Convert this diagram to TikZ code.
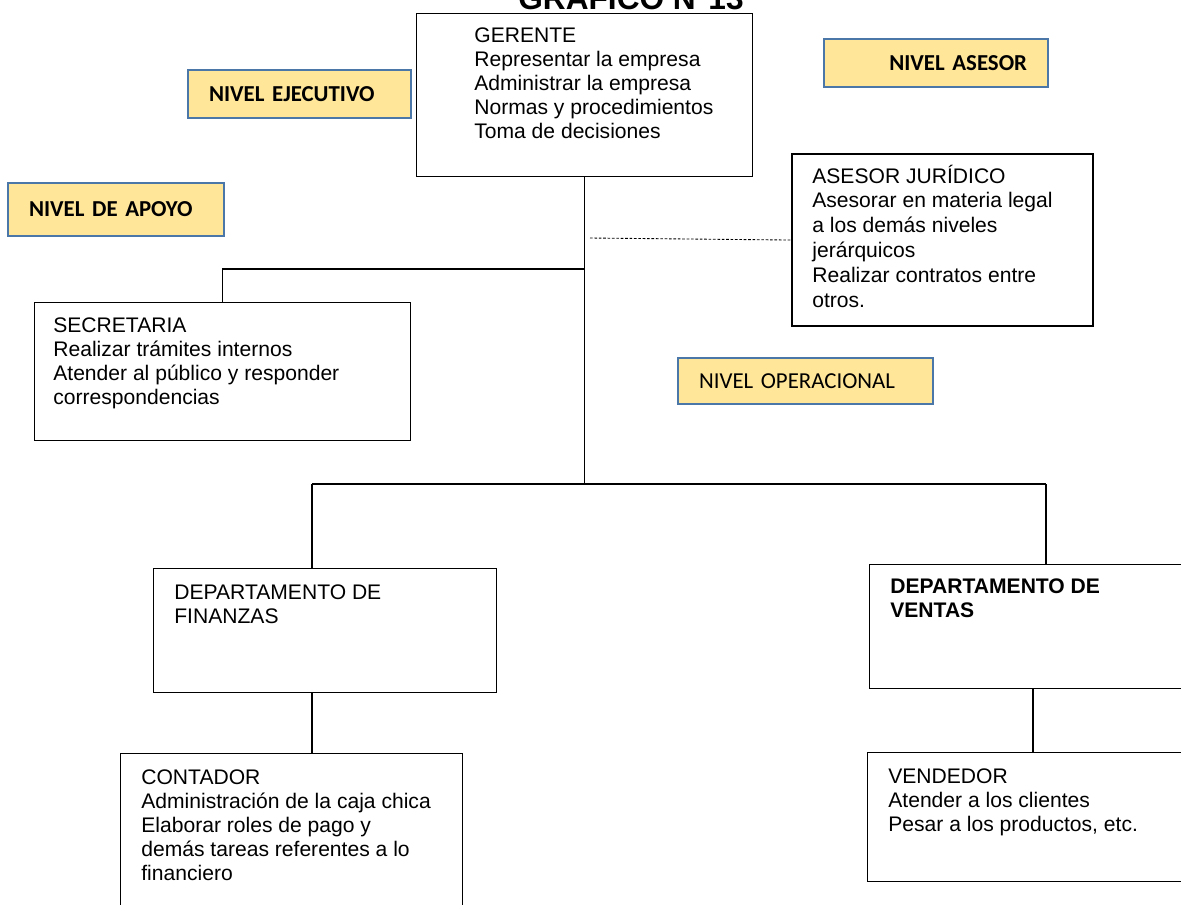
\documentclass[tikz,border=0pt]{standalone}
\usepackage{fontspec}
\setmainfont{Liberation Sans}
\newfontfamily\calibri{Carlito}
\usetikzlibrary{positioning, calc}
\definecolor{amarillo}{HTML}{FFE699}
\definecolor{azul}{HTML}{4A76A8}
\newcommand{\lineas}[1]{\begin{tabular}[t]{@{}l@{}}#1\end{tabular}}

\begin{document}
\begin{tikzpicture}[x=0.02cm, y=-0.02cm,
    caja/.style={draw, line width=0.6pt, anchor=north west, inner sep=0},
    texto/.style={anchor=base west, inner sep=0, font=\fontsize{12}{13.8}\selectfont},
    nivel/.style={fill=amarillo, draw=azul, line width=1.2pt, anchor=north west,
                  inner ysep=0, inner xsep=0.42cm, font=\calibri\bfseries\fontsize{13}{15}\selectfont},
    linea/.style={line width=0.8pt}]
  \useasboundingbox (0,0) rectangle (1181,904);

  % Titulo
  \node[anchor=base, inner sep=0, font=\bfseries\fontsize{18}{20}\selectfont] (titulo) at (631,9.5) {GRÁFICO N°13};

  % Niveles
  \node[nivel, minimum height=0.96cm, text width=3.62cm, align=left] (ejecutivo) at (187,69) {NIVEL EJECUTIVO};
  \node[nivel, minimum height=0.96cm, text width=3.64cm, align=right] (nasesor) at (823,38) {NIVEL ASESOR};
  \node[nivel, minimum height=1.06cm, text width=3.48cm, align=left] (apoyo) at (7,182) {NIVEL DE APOYO};
  \node[nivel, minimum height=0.92cm, text width=4.26cm, align=left, font=\calibri\fontsize{13}{15}\selectfont] (operacional) at (677,357) {NIVEL OPERACIONAL};

  % Cajas
  \node[caja, minimum width=6.72cm, minimum height=3.26cm] (gerente) at (416,13) {};
  \node[texto] (gerente-txt) at (474,42) {\lineas{GERENTE\\Representar la empresa\\Administrar la empresa\\Normas y procedimientos\\Toma de decisiones}};

  \node[caja, line width=1.2pt, minimum width=6.02cm, minimum height=3.44cm] (asesor) at (791,153) {};
  \node[texto, font=\fontsize{12}{14.2}\selectfont] (asesor-txt) at (812,183) {\lineas{ASESOR JURÍDICO\\Asesorar en materia legal\\a los demás niveles\\jerárquicos\\Realizar contratos entre\\otros.}};

  \node[caja, minimum width=7.52cm, minimum height=2.76cm] (secretaria) at (34,302) {};
  \node[texto] (secretaria-txt) at (53,332) {\lineas{SECRETARIA\\Realizar trámites internos\\Atender al público y responder\\correspondencias}};

  \node[caja, minimum width=6.86cm, minimum height=2.48cm] (finanzas) at (153,568) {};
  \node[texto] (finanzas-txt) at (174,599) {\lineas{DEPARTAMENTO DE\\FINANZAS}};

  \node[caja, minimum width=6.42cm, minimum height=2.48cm] (ventas) at (869,564) {};
  \node[texto, font=\bfseries\fontsize{12}{13.8}\selectfont] (ventas-txt) at (890,593) {\lineas{DEPARTAMENTO DE\\VENTAS}};

  \node[caja, minimum width=6.84cm, minimum height=3.4cm] (contador) at (120,753) {};
  \node[texto] (contador-txt) at (141,784) {\lineas{CONTADOR\\Administración de la caja chica\\Elaborar roles de pago y\\demás tareas referentes a lo\\financiero}};

  \node[caja, minimum width=6.42cm, minimum height=2.58cm] (vendedor) at (867,752) {};
  \node[texto] (vendedor-txt) at (888,783) {\lineas{VENDEDOR\\Atender a los clientes\\Pesar a los productos, etc.}};

  % Conectores
  \coordinate (ramal) at (gerente.south |- 0,269);
  \coordinate (cruce) at (gerente.south |- 0,484);
  \coordinate (izq) at (312,484);
  \coordinate (der) at (1046,484);
  \coordinate (punto) at (590,238);
  \draw[linea] (gerente.south) -- (cruce);
  \draw[linea] (secretaria.north) |- (ramal);
  \draw[line width=0.5pt, dash pattern=on 1.5pt off 1pt] (punto) -- (asesor.west);
  \draw[linea] (izq) -- (der);
  \draw[linea] (izq) -- (izq |- finanzas.north);
  \draw[linea] (der) -- (der |- ventas.north);
  \draw[linea] (izq |- finanzas.south) -- (izq |- contador.north);
  \draw[linea] (ventas.south -| 1033,0) -- (vendedor.north -| 1033,0);
\end{tikzpicture}
\end{document}
